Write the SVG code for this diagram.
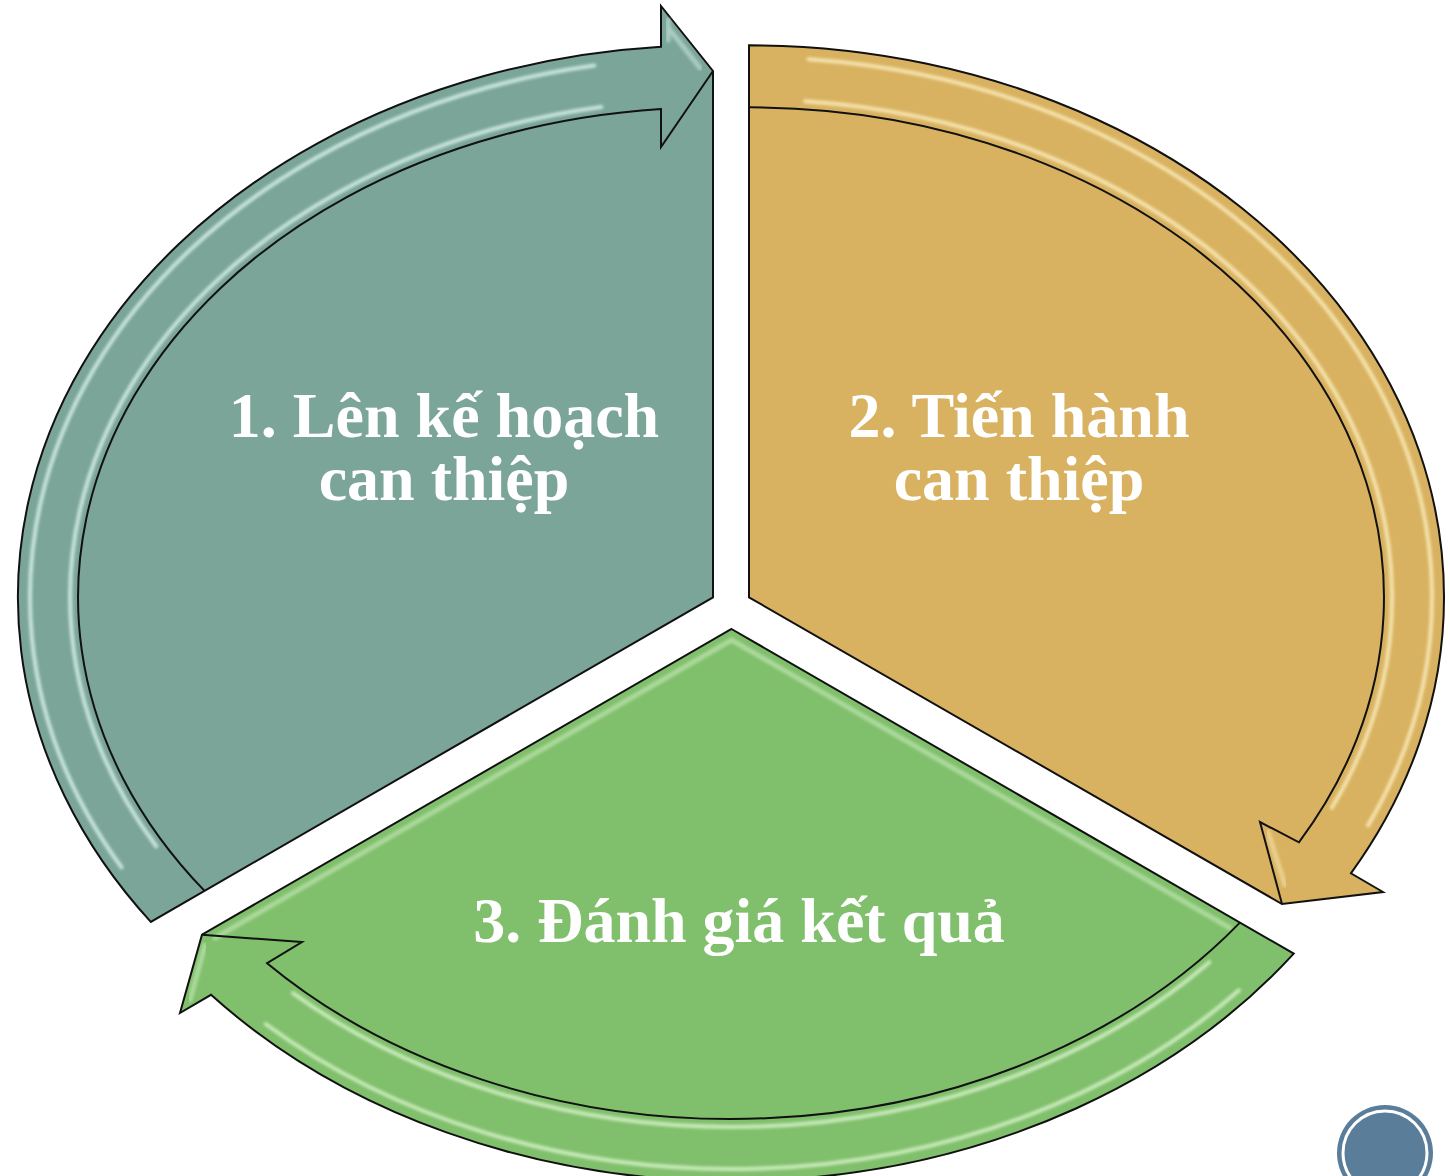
<svg xmlns="http://www.w3.org/2000/svg" width="1450" height="1176" viewBox="0 0 1450 1176">
<defs>
<style>
.edge{stroke:#111;stroke-width:2;stroke-linejoin:miter;}
.line{fill:none;stroke:#111;stroke-width:2;stroke-linejoin:miter;}
.hl{fill:none;stroke-width:4;stroke-linecap:round;opacity:0.75;filter:url(#soft);}
.bev{fill:none;stroke-width:5;stroke-linecap:round;opacity:0.45;filter:url(#soft);}
.lbl{font-family:"Liberation Serif","Times New Roman",serif;font-weight:bold;font-size:64px;fill:#fff;text-anchor:middle;}
</style>
<filter id="soft" x="-5%" y="-5%" width="110%" height="110%"><feGaussianBlur stdDeviation="1.5"/></filter>
</defs>
<rect width="1450" height="1176" fill="#fff"/>

<g id="node-1">
<path class="edge" fill="#7BA599" d="M713,597.3 L713,71 L661,6 L661,46.8 A695,552 0 0 0 150.8,921.9 Z"/>
<path class="hl" stroke="#E4FBF5" d="M121.5,867.3 A683,540 0 0 1 594.4,65.5"/>
<path class="hl" stroke="#E4FBF5" d="M156.2,846.3 A643,498 0 0 1 601.4,106.9"/>
<path class="bev" stroke="#E4FBF5" d="M705,120 L705,585"/>
<path class="bev" stroke="#E4FBF5" d="M668,20 L668,40 M670,30 L700,68"/>
<path class="line" d="M204.6,890.9 A635,490 0 0 1 661,109 L661,147 L713,71"/>
<text class="lbl" x="444" y="437">1. Lên kế hoạch<tspan x="444" dy="63">can thiệp</tspan></text>
</g>

<g id="node-2">
<path class="edge" fill="#D8B260" d="M749,597.3 L749,45.3 A695,552 0 0 1 1350.9,873.3 L1383,892 L1282,904 Z"/>
<path class="hl" stroke="#FFF4C8" d="M808.5,59.3 A683,540 0 0 1 1368,825.5"/>
<path class="hl" stroke="#FFF4C8" d="M805,101.2 A643,498 0 0 1 1331.8,807.8"/>
<path class="bev" stroke="#FFF4C8" d="M757,52 L757,590"/>
<path class="bev" stroke="#FFF4C8" d="M1268,832 L1285,885"/>
<path class="line" d="M749,107.3 A635,490 0 0 1 1298.9,842.3 L1260,822 L1282,904"/>
<text class="lbl" x="1019" y="437">2. Tiến hành<tspan x="1019" dy="63">can thiệp</tspan></text>
</g>

<g id="node-3">
<path class="edge" fill="#80BF6C" d="M731.5,629 L1293.7,953.6 A695,552 0 0 1 211,994.8 L180,1013 L202,934.7 Z"/>
<path class="hl" stroke="#E2FAD6" d="M1239,990.3 A683,540 0 0 1 265.7,1024"/>
<path class="hl" stroke="#E2FAD6" d="M1209.3,962.2 A643,498 0 0 1 293,993.2"/>
<path class="bev" stroke="#E2FAD6" d="M215,938 L731.5,640 L1230,928"/>
<path class="bev" stroke="#E2FAD6" d="M205,945 L190,1000"/>
<path class="line" d="M1239.9,922.6 A635,490 0 0 1 267.1,963.2 L302,942 L202,934.7"/>
<text class="lbl" x="739" y="942">3. Đánh giá kết quả</text>
</g>

<g id="connectors"></g>

<g id="badge">
<circle cx="1385" cy="1153" r="48" fill="#5A7D9A"/>
<circle cx="1385" cy="1153" r="42" fill="none" stroke="#fff" stroke-width="3"/>
</g>
</svg>
